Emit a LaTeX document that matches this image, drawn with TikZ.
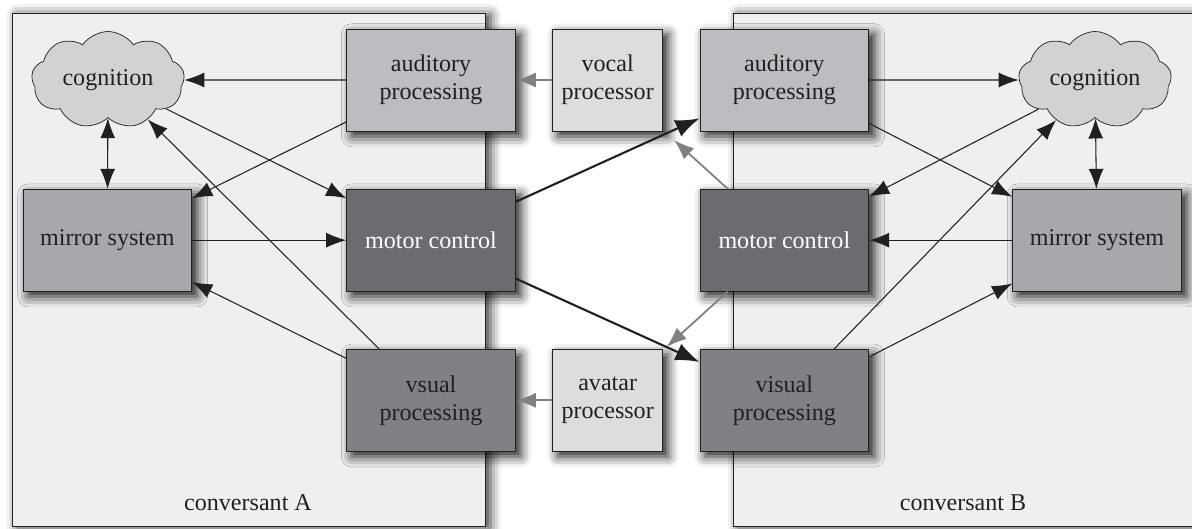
\documentclass[tikz,border=0pt]{standalone}
\usepackage{fontspec}
\setmainfont{Liberation Serif}
\usetikzlibrary{shapes, arrows.meta, positioning, shadows.blur}
\definecolor{ink}{HTML}{231F20}
\definecolor{panelfill}{HTML}{EFEFEF}
\definecolor{audfill}{HTML}{BCBDC0}
\definecolor{mirfill}{HTML}{A7A8AB}
\definecolor{motfill}{HTML}{6B6C6F}
\definecolor{visfill}{HTML}{808184}
\definecolor{devfill}{HTML}{DCDDDF}
\definecolor{cogfill}{HTML}{D1D2D4}
\definecolor{arrowgrey}{HTML}{7F8083}

\begin{document}
\begin{tikzpicture}[x=0.02cm, y=0.02cm, node distance=1.15cm and 0.73cm,
    module/.style={rectangle, draw=ink, fill=#1, text=ink, align=center, minimum width=3.38cm, minimum height=2.04cm, inner sep=2pt, font=\fontsize{13.7}{16}\selectfont, blur shadow={shadow xshift=3pt, shadow yshift=-3pt, shadow blur radius=6pt, shadow opacity=90}},
    device/.style={module=devfill, minimum width=2.2cm},
    thought/.style={cloud, cloud puffs=9, cloud puff arc=110, cloud ignores aspect, draw=ink, fill=cogfill, text=ink, minimum width=3.06cm, minimum height=1.94cm, inner sep=0pt, font=\fontsize{13.7}{16}\selectfont},
    panel/.style={draw=ink, fill=panelfill, blur shadow={shadow xshift=3pt, shadow yshift=-1pt, shadow blur radius=6pt, shadow opacity=80}},
    caption/.style={text=ink, font=\fontsize{13.7}{16}\selectfont},
    arrow/.style={draw=ink, line width=0.6pt, -{Latex[length=4mm,width=3mm]}},
    twoway/.style={arrow, {Latex[length=4mm,width=3mm]}-{Latex[length=4mm,width=3mm]}},
    link/.style={draw=ink, line width=1.2pt, -{Latex[length=4.8mm,width=3.6mm]}},
    drive/.style={draw=arrowgrey, line width=1pt, -{Latex[length=4mm,width=3mm]}}]

    \useasboundingbox (0,0) rectangle (1192,528);
    \draw [panel] (12,2) rectangle (485,515);
    \draw [panel] (733,2) rectangle (1210,515);

    \node [module=audfill] (audA) at (431,448) {auditory\\processing};
    \node [module=motfill, text=white, below=of audA] (motA) {motor control};
    \node [module=visfill, below=of motA] (visA) {vsual\\processing};
    \node [module=mirfill, left=3.08cm of motA] (mirA) {mirror system};
    \node [thought] (cogA) at (108,448) {cognition};

    \node [device, right=of audA] (vocal) {vocal\\processor};
    \node [device, right=of visA] (avatar) {avatar\\processor};

    \node [module=audfill, right=of vocal] (audB) {auditory\\processing};
    \node [module=motfill, text=white, below=of audB] (motB) {motor control};
    \node [module=visfill, below=of motB] (visB) {visual\\processing};
    \node [module=mirfill, right=2.86cm of motB] (mirB) {mirror system};
    \node [thought] (cogB) at (1095,448) {cognition};

    \node [caption] (labA) at (248,25) {conversant A};
    \node [caption] (labB) at (963,25) {conversant B};

    \draw [arrow] (audA) -- (cogA);
    \draw [arrow] (audA) -- (mirA);
    \draw [arrow] (cogA) -- (motA);
    \draw [twoway] (cogA) -- (mirA);
    \draw [arrow] (mirA) -- (motA);
    \draw [arrow] (visA) -- (mirA);
    \draw [arrow] (visA) -- (cogA);

    \draw [arrow] (audB) -- (cogB);
    \draw [arrow] (audB) -- (mirB);
    \draw [arrow] (cogB) -- (motB);
    \draw [twoway] (cogB) -- (mirB);
    \draw [arrow] (mirB) -- (motB);
    \draw [arrow] (visB) -- (mirB);
    \draw [arrow] (visB) -- (cogB);

    \draw [drive] (vocal) -- (audA);
    \draw [drive] (avatar) -- (visA);
    \draw [drive, shorten >=0.3cm] (motB) -- (vocal);
    \draw [drive, shorten >=0.1cm] (motB) -- (avatar);
    \draw [link] (motA) -- (audB);
    \draw [link] (motA) -- (visB);
\end{tikzpicture}
\end{document}
